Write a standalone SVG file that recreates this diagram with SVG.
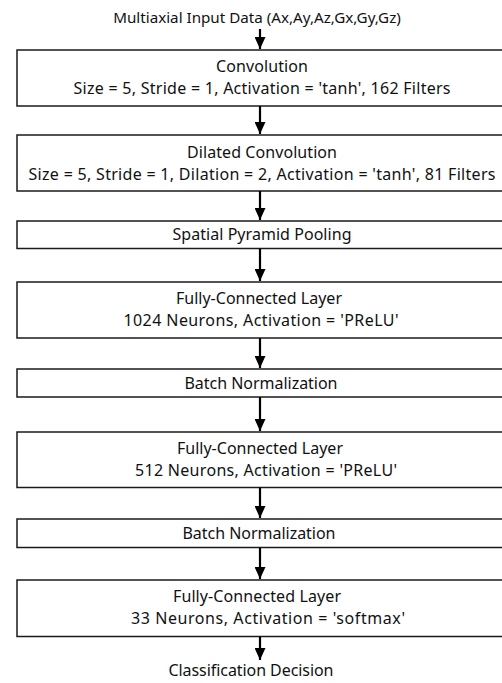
<svg xmlns="http://www.w3.org/2000/svg" width="502" height="683" viewBox="0 0 502 683">
<defs>
<style>
.box{fill:#fff;stroke:#1a1a1a;stroke-width:1.5}
.t{font-family:"Noto Sans","Open Sans","DejaVu Sans",sans-serif;font-size:16px;fill:#111;text-anchor:middle}
.c{stroke:#000;stroke-width:2.2;fill:none}
</style>
<marker id="ah" markerWidth="12" markerHeight="11" refX="12" refY="5.5" orient="auto" markerUnits="userSpaceOnUse">
<path d="M0,0 L12,5.5 L0,11 Z" fill="#000"/>
</marker>
</defs>
<rect width="502" height="683" fill="#fff"/>
<g id="input"><text class="t" x="257" y="23" style="font-size:15.2px">Multiaxial Input Data (Ax,Ay,Az,Gx,Gy,Gz)</text></g>
<g id="conv"><rect class="box" x="17" y="50" width="490" height="56"/>
<text class="t" x="262" y="72" textLength="92">Convolution</text>
<text class="t" x="262" y="94" textLength="377">Size = 5, Stride = 1, Activation = 'tanh', 162 Filters</text></g>
<g id="dilated"><rect class="box" x="17" y="135" width="490" height="56"/>
<text class="t" x="262" y="157.5" textLength="150">Dilated Convolution</text>
<text class="t" x="262" y="179.5" textLength="467">Size = 5, Stride = 1, Dilation = 2, Activation = 'tanh', 81 Filters</text></g>
<g id="spp"><rect class="box" x="17" y="221" width="490" height="27.5"/>
<text class="t" x="262" y="240" textLength="179">Spatial Pyramid Pooling</text></g>
<g id="fc1"><rect class="box" x="17" y="282" width="490" height="56"/>
<text class="t" x="259" y="303.5" textLength="166">Fully-Connected Layer</text>
<text class="t" x="261" y="325.5" textLength="275">1024 Neurons, Activation = 'PReLU'</text></g>
<g id="bn1"><rect class="box" x="17" y="369" width="490" height="28"/>
<text class="t" x="261" y="388.5" textLength="153">Batch Normalization</text></g>
<g id="fc2"><rect class="box" x="17" y="432" width="490" height="55.5"/>
<text class="t" x="260" y="454" textLength="166">Fully-Connected Layer</text>
<text class="t" x="266" y="476" textLength="262">512 Neurons, Activation = 'PReLU'</text></g>
<g id="bn2"><rect class="box" x="17" y="519" width="490" height="28.5"/>
<text class="t" x="259" y="539" textLength="153">Batch Normalization</text></g>
<g id="fc3"><rect class="box" x="17" y="580" width="490" height="56.5"/>
<text class="t" x="257" y="602" textLength="168">Fully-Connected Layer</text>
<text class="t" x="268" y="624" textLength="274">33 Neurons, Activation = 'softmax'</text></g>
<g id="output"><text class="t" x="251" y="676" textLength="165">Classification Decision</text></g>
<g id="connectors">
<line class="c" x1="260" y1="29" x2="260" y2="49" marker-end="url(#ah)"/>
<line class="c" x1="260" y1="106" x2="260" y2="134" marker-end="url(#ah)"/>
<line class="c" x1="260" y1="191" x2="260" y2="220" marker-end="url(#ah)"/>
<line class="c" x1="260" y1="248.5" x2="260" y2="281" marker-end="url(#ah)"/>
<line class="c" x1="260" y1="338" x2="260" y2="368" marker-end="url(#ah)"/>
<line class="c" x1="260" y1="397" x2="260" y2="431" marker-end="url(#ah)"/>
<line class="c" x1="260" y1="487.5" x2="260" y2="518" marker-end="url(#ah)"/>
<line class="c" x1="260" y1="547.5" x2="260" y2="579" marker-end="url(#ah)"/>
<line class="c" x1="260" y1="636.5" x2="260" y2="660" marker-end="url(#ah)"/>
</g>
</svg>
